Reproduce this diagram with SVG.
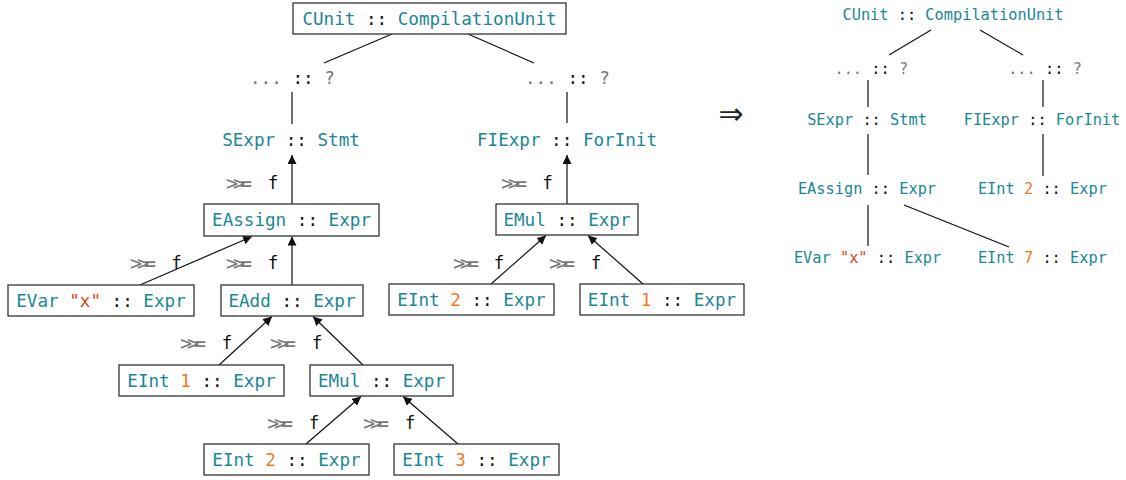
<svg xmlns="http://www.w3.org/2000/svg" width="1126" height="480" viewBox="0 0 1126 480">
  <style>
    .box { fill: #fff; stroke: #333; stroke-width: 1.3; }
    .t { font-family: "DejaVu Sans Mono", "Liberation Mono", monospace; font-size: 17.6px; fill: #1a8796; text-anchor: middle; dominant-baseline: central; }
    .sm { font-size: 15.3px; }
    .k { fill: #111; }
    .n { fill: #f37a1f; }
    .s { fill: #d8481c; }
    .g { fill: #777; }
    .bind { font-family: "DejaVu Sans Mono", "Liberation Mono", monospace; font-size: 20px; fill: #777; dominant-baseline: central; letter-spacing: -5px; }
    .fn { font-family: "DejaVu Sans Mono", "Liberation Mono", monospace; font-size: 17.6px; fill: #111; text-anchor: middle; dominant-baseline: central; }
    .edge { stroke: #111; stroke-width: 1.2; fill: none; }
  </style>
  <defs>
    <marker id="ah" viewBox="0 0 10 10" refX="10" refY="5" markerWidth="9" markerHeight="9" markerUnits="userSpaceOnUse" orient="auto">
      <path d="M0,0 L10,5 L0,10 z" fill="#111"/>
    </marker>
  </defs>

  <!-- connectors -->
  <g id="connectors">
    <!-- left tree: plain edges -->
    <line class="edge" x1="392" y1="34" x2="324" y2="63"/>
    <line class="edge" x1="468" y1="34" x2="534" y2="63"/>
    <line class="edge" x1="292" y1="92" x2="292" y2="124"/>
    <line class="edge" x1="567" y1="92" x2="567" y2="123"/>
    <!-- left tree: arrows -->
    <line class="edge" x1="292" y1="204" x2="292" y2="155" marker-end="url(#ah)"/>
    <line class="edge" x1="567" y1="204" x2="567" y2="155" marker-end="url(#ah)"/>
    <line class="edge" x1="140" y1="285" x2="252" y2="236.5" marker-end="url(#ah)"/>
    <line class="edge" x1="292" y1="285" x2="292" y2="236.5" marker-end="url(#ah)"/>
    <line class="edge" x1="491" y1="284" x2="546" y2="235.5" marker-end="url(#ah)"/>
    <line class="edge" x1="643" y1="284" x2="588" y2="235.5" marker-end="url(#ah)"/>
    <line class="edge" x1="219" y1="365" x2="272" y2="316.5" marker-end="url(#ah)"/>
    <line class="edge" x1="363" y1="365" x2="313" y2="316.5" marker-end="url(#ah)"/>
    <line class="edge" x1="306" y1="444" x2="361" y2="396.5" marker-end="url(#ah)"/>
    <line class="edge" x1="458" y1="444" x2="403" y2="396.5" marker-end="url(#ah)"/>
    <!-- right tree -->
    <line class="edge" x1="931" y1="30" x2="889" y2="55"/>
    <line class="edge" x1="980" y1="30" x2="1023" y2="55"/>
    <line class="edge" x1="868" y1="80" x2="868" y2="107"/>
    <line class="edge" x1="1043" y1="80" x2="1043" y2="107"/>
    <line class="edge" x1="868" y1="134" x2="868" y2="175"/>
    <line class="edge" x1="1043" y1="134" x2="1043" y2="176"/>
    <line class="edge" x1="868" y1="205" x2="868" y2="246"/>
    <line class="edge" x1="904" y1="205" x2="1009" y2="247"/>
  </g>

  <!-- bind labels on the arrows -->
  <g id="bind-labels">
    <text class="bind" x="226" y="183">&gt;&gt;=</text><text class="fn" x="273" y="183">f</text>
    <text class="bind" x="501" y="183">&gt;&gt;=</text><text class="fn" x="547.5" y="183">f</text>
    <text class="bind" x="130" y="263">&gt;&gt;=</text><text class="fn" x="176.5" y="263">f</text>
    <text class="bind" x="226" y="263">&gt;&gt;=</text><text class="fn" x="273" y="263">f</text>
    <text class="bind" x="453" y="263">&gt;&gt;=</text><text class="fn" x="499" y="263">f</text>
    <text class="bind" x="549" y="263">&gt;&gt;=</text><text class="fn" x="596" y="263">f</text>
    <text class="bind" x="180" y="343">&gt;&gt;=</text><text class="fn" x="227" y="343">f</text>
    <text class="bind" x="270" y="343">&gt;&gt;=</text><text class="fn" x="317" y="343">f</text>
    <text class="bind" x="267" y="423">&gt;&gt;=</text><text class="fn" x="314" y="423">f</text>
    <text class="bind" x="363" y="423">&gt;&gt;=</text><text class="fn" x="410" y="423">f</text>
  </g>

  <!-- left tree nodes -->
  <g id="cunit">
    <rect class="box" x="293" y="3" width="273" height="31"/>
    <text class="t" x="429.5" y="18.5">CUnit <tspan class="k">::</tspan> CompilationUnit</text>
  </g>
  <g id="hole-left">
    <text class="t g" x="292.4" y="78">... <tspan class="k">::</tspan> ?</text>
  </g>
  <g id="hole-right">
    <text class="t g" x="567.4" y="78">... <tspan class="k">::</tspan> ?</text>
  </g>
  <g id="sexpr">
    <text class="t" x="291" y="140">SExpr <tspan class="k">::</tspan> Stmt</text>
  </g>
  <g id="fiexpr">
    <text class="t" x="567" y="140">FIExpr <tspan class="k">::</tspan> ForInit</text>
  </g>
  <g id="eassign">
    <rect class="box" x="204" y="204" width="175" height="32"/>
    <text class="t" x="291.5" y="220">EAssign <tspan class="k">::</tspan> Expr</text>
  </g>
  <g id="emul-top">
    <rect class="box" x="496" y="204" width="142" height="31"/>
    <text class="t" x="567" y="219.5">EMul <tspan class="k">::</tspan> Expr</text>
  </g>
  <g id="evar">
    <rect class="box" x="8" y="285" width="186" height="31"/>
    <text class="t" x="101" y="300.5">EVar <tspan class="s">"x"</tspan> <tspan class="k">::</tspan> Expr</text>
  </g>
  <g id="eadd">
    <rect class="box" x="221" y="285" width="142" height="31"/>
    <text class="t" x="292" y="300.5">EAdd <tspan class="k">::</tspan> Expr</text>
  </g>
  <g id="eint2-mid">
    <rect class="box" x="389" y="284" width="165" height="31"/>
    <text class="t" x="471.5" y="299.5">EInt <tspan class="n">2</tspan> <tspan class="k">::</tspan> Expr</text>
  </g>
  <g id="eint1-right">
    <rect class="box" x="580" y="284" width="164" height="31"/>
    <text class="t" x="662" y="299.5">EInt <tspan class="n">1</tspan> <tspan class="k">::</tspan> Expr</text>
  </g>
  <g id="eint1-left">
    <rect class="box" x="119" y="365" width="165" height="31"/>
    <text class="t" x="201.5" y="380.5">EInt <tspan class="n">1</tspan> <tspan class="k">::</tspan> Expr</text>
  </g>
  <g id="emul-low">
    <rect class="box" x="310" y="365" width="143" height="31"/>
    <text class="t" x="381.5" y="380.5">EMul <tspan class="k">::</tspan> Expr</text>
  </g>
  <g id="eint2-bottom">
    <rect class="box" x="204" y="444" width="165" height="31"/>
    <text class="t" x="286.5" y="459.5">EInt <tspan class="n">2</tspan> <tspan class="k">::</tspan> Expr</text>
  </g>
  <g id="eint3">
    <rect class="box" x="394" y="444" width="165" height="31"/>
    <text class="t" x="476.5" y="459.5">EInt <tspan class="n">3</tspan> <tspan class="k">::</tspan> Expr</text>
  </g>

  <!-- rewrite arrow -->
  <g id="implies">
    <text x="731" y="113" font-family="DejaVu Sans, sans-serif" font-size="30" fill="#222" text-anchor="middle" dominant-baseline="central">⇒</text>
  </g>

  <!-- right tree nodes -->
  <g id="r-cunit">
    <text class="t sm" x="953" y="15">CUnit <tspan class="k">::</tspan> CompilationUnit</text>
  </g>
  <g id="r-hole-left">
    <text class="t sm g" x="871.3" y="69">... <tspan class="k">::</tspan> ?</text>
  </g>
  <g id="r-hole-right">
    <text class="t sm g" x="1045" y="69">... <tspan class="k">::</tspan> ?</text>
  </g>
  <g id="r-sexpr">
    <text class="t sm" x="867" y="120">SExpr <tspan class="k">::</tspan> Stmt</text>
  </g>
  <g id="r-fiexpr">
    <text class="t sm" x="1042" y="120">FIExpr <tspan class="k">::</tspan> ForInit</text>
  </g>
  <g id="r-eassign">
    <text class="t sm" x="867" y="189">EAssign <tspan class="k">::</tspan> Expr</text>
  </g>
  <g id="r-eint2">
    <text class="t sm" x="1042.4" y="189">EInt <tspan class="n">2</tspan> <tspan class="k">::</tspan> Expr</text>
  </g>
  <g id="r-evar">
    <text class="t sm" x="867.6" y="258">EVar <tspan class="s">"x"</tspan> <tspan class="k">::</tspan> Expr</text>
  </g>
  <g id="r-eint7">
    <text class="t sm" x="1042.4" y="258">EInt <tspan class="n">7</tspan> <tspan class="k">::</tspan> Expr</text>
  </g>
</svg>
